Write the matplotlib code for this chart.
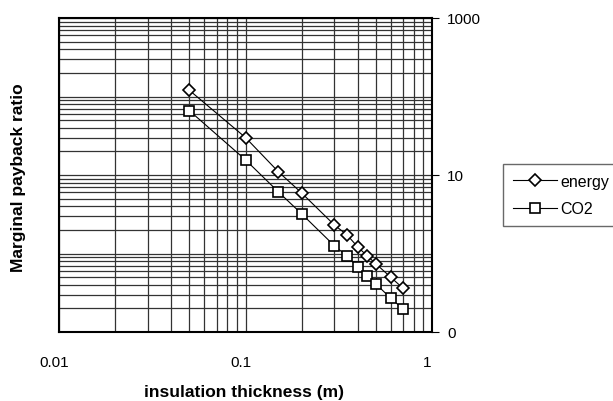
import matplotlib
matplotlib.use("Agg")
import matplotlib.pyplot as plt
import matplotlib.transforms as mtransforms
from matplotlib.ticker import FixedLocator, FixedFormatter, LogLocator, NullFormatter

thickness = [0.05, 0.1, 0.15, 0.2, 0.3, 0.35, 0.4, 0.45, 0.5, 0.6, 0.7]
energy = [120, 30, 11.0, 5.9, 2.3, 1.73, 1.21, 0.93, 0.74, 0.50, 0.36]
co2 = [66, 15.6, 6.1, 3.2, 1.25, 0.93, 0.67, 0.52, 0.41, 0.27, 0.196]
x_ticks = [0.01, 0.1, 1]
x_labels = ["0.01", "0.1", "1"]
y_ticks = [0.1, 10, 1000]
y_labels = ["0", "10", "1000"]

plt.rcParams['font.family'] = ['Liberation Sans', 'DejaVu Sans']
fig = plt.figure(figsize=(6.13, 4.02), dpi=100)
ax = fig.add_axes([59/613, 1-333/402, (432-59)/613, (333-19)/402])
ax.set_xscale('log')
ax.set_yscale('log')
ax.set_xlim(0.01, 1)
ax.set_ylim(0.1, 1000)

ax.plot(thickness, energy, color='black', lw=0.8, marker='D', ms=6,
        mfc='white', mec='black', mew=1.2, label='energy')
ax.plot(thickness, co2, color='black', lw=0.8, marker='s', ms=7,
        mfc='white', mec='black', mew=1.2, label='CO2')

ax.xaxis.set_major_locator(FixedLocator(x_ticks))
ax.xaxis.set_major_formatter(FixedFormatter(x_labels))
ax.xaxis.set_minor_locator(LogLocator(base=10, subs=range(2, 10)))
ax.xaxis.set_minor_formatter(NullFormatter())
ax.yaxis.set_major_locator(FixedLocator(y_ticks))
ax.yaxis.set_major_formatter(FixedFormatter(y_labels))
ax.yaxis.set_minor_locator(LogLocator(base=10, subs=range(1, 10), numticks=20))
ax.yaxis.set_minor_formatter(NullFormatter())

ax.grid(True, which='both', color='#333333', lw=0.9)
ax.set_axisbelow(True)
for s in ax.spines.values():
    s.set_linewidth(1.5)
    s.set_color('black')

ax.yaxis.tick_right()
ax.tick_params(axis='y', which='major', direction='out', length=5, labelsize=11, pad=6)
ax.tick_params(axis='y', which='minor', length=0)
ax.tick_params(axis='x', which='major', length=0, labelsize=11, pad=22)
ax.tick_params(axis='x', which='minor', length=0)

offset = mtransforms.ScaledTranslation(-5/100, 8/100, fig.dpi_scale_trans)
for lab in ax.get_xticklabels():
    lab.set_transform(lab.get_transform() + offset)

fig.text(244/613, 1-393/402, 'insulation thickness (m)', fontsize=12.5,
         fontweight='bold', ha='center', va='center')
fig.text(19/613, 1-178/402, 'Marginal payback ratio', rotation=90, fontsize=12.5,
         fontweight='bold', ha='center', va='center')

leg = fig.legend(loc='upper left', bbox_to_anchor=(503/613, 1-165/402), frameon=True,
                 fancybox=False, edgecolor='#444444', fontsize=11.5, handlelength=2.8,
                 borderpad=0.6, labelspacing=0.8, handletextpad=0.2, borderaxespad=0)
leg.get_frame().set_linewidth(1.0)

fig.savefig('out.png', dpi=100)
